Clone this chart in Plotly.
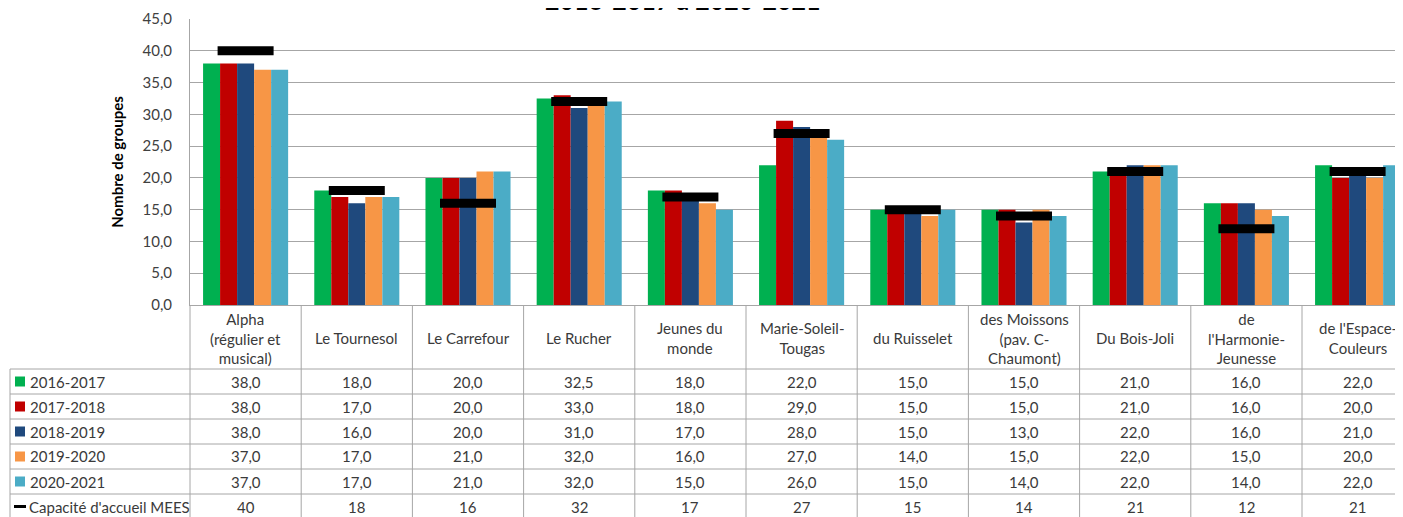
import plotly.graph_objects as go

categories = ["Alpha<br>(régulier et<br>musical)", "Le Tournesol", "Le Carrefour", "Le Rucher",
              "Jeunes du<br>monde", "Marie-Soleil-<br>Tougas", "du Ruisselet",
              "des Moissons<br>(pav. C-<br>Chaumont)", "Du Bois-Joli", "de<br>l'Harmonie-<br>Jeunesse",
              "de l'Espace-<br>Couleurs"]
series_names = ["2016-2017", "2017-2018", "2018-2019", "2019-2020", "2020-2021"]
s2016 = [38, 18, 20, 32.5, 18, 22, 15, 15, 21, 16, 22]
s2017 = [38, 17, 20, 33, 18, 29, 15, 15, 21, 16, 20]
s2018 = [38, 16, 20, 31, 17, 28, 15, 13, 22, 16, 21]
s2019 = [37, 17, 21, 32, 16, 27, 14, 15, 22, 15, 20]
s2020 = [37, 17, 21, 32, 15, 26, 15, 14, 22, 14, 22]
capacity_name = "Capacité d'accueil MEES"
capacity = [40, 18, 16, 32, 17, 27, 15, 14, 21, 12, 21]
colors = ["#00b050", "#c00000", "#1f497d", "#f79646", "#4bacc6"]
y_ticks = [0, 5, 10, 15, 20, 25, 30, 35, 40, 45]

W, H = 1403, 517
OFF = 8                      # page body margin
PL, PT, PBt = 190, 19, 305   # plot left / top / bottom in page pixels
ML, MT = PL - OFF, PT - OFF
MB = H - (PBt - OFF)
PW = W - ML                  # plot width in px
UNIT = 111.2                 # px per category
FONT = "Lato"
TXT = "#3a3a3a"
GRID = "#a6a6a6"

xs = list(range(len(categories)))
fig = go.Figure()
for name, vals, c in zip(series_names, [s2016, s2017, s2018, s2019, s2020], colors):
    fig.add_trace(go.Bar(x=xs, y=vals, name=name, marker=dict(color=c, line=dict(width=0)),
                         showlegend=False))
fig.add_trace(go.Scatter(x=xs, y=capacity, mode="markers", name=capacity_name, showlegend=False,
                         marker=dict(symbol="line-ew", size=40, color="black",
                                     line=dict(width=9, color="black"))))

def py(p):
    return (PBt - p) / (PBt - PT)

def px_(p):
    return (p - PL) / PW

ann = []
shapes = []
tf = dict(family=FONT, size=15, color=TXT)
# header row labels
for i, c in enumerate(categories):
    ann.append(dict(x=i, y=py(338), xref="x", yref="paper", text=c, showarrow=False,
                    xanchor="center", yanchor="middle", font=tf, align="center"))
row_tops = [369, 394, 419, 444, 469, 494]
row_h = 25
all_rows = [s2016, s2017, s2018, s2019, s2020]
for r, (name, vals) in enumerate(zip(series_names, all_rows)):
    yc = row_tops[r] + row_h / 2
    for i, v in enumerate(vals):
        ann.append(dict(x=i, y=py(yc), xref="x", yref="paper", text=f"{v:.1f}".replace(".", ","),
                        xanchor="center", yanchor="middle", showarrow=False, font=tf))
    ann.append(dict(x=px_(28), y=py(yc), xref="paper", yref="paper", text=name, xanchor="left",
                    yanchor="middle", showarrow=False, font=tf))
    shapes.append(dict(type="rect", xref="paper", yref="paper", x0=px_(15), x1=px_(25),
                       y0=py(yc - 5), y1=py(yc + 5), fillcolor=colors[r], line=dict(width=0)))
yc = row_tops[5] + row_h / 2
for i, v in enumerate(capacity):
    ann.append(dict(x=i, y=py(yc), xref="x", yref="paper", text=str(v), showarrow=False,
                    xanchor="center", yanchor="middle", font=tf))
ann.append(dict(x=px_(27), y=py(yc), xref="paper", yref="paper", text=capacity_name, xanchor="left",
                yanchor="middle", showarrow=False, font=tf))
shapes.append(dict(type="line", xref="paper", yref="paper", x0=px_(14), x1=px_(26),
                   y0=py(yc), y1=py(yc), line=dict(color="black", width=3)))
# horizontal table lines
for t in row_tops:
    shapes.append(dict(type="line", xref="paper", yref="paper", x0=px_(10), x1=1.0,
                       y0=py(t), y1=py(t), line=dict(color=GRID, width=1)))
# vertical lines
shapes.append(dict(type="line", xref="paper", yref="paper", x0=px_(10), x1=px_(10),
                   y0=py(369), y1=py(530), line=dict(color=GRID, width=1)))
shapes.append(dict(type="line", xref="paper", yref="paper", x0=0, x1=0,
                   y0=py(305), y1=py(530), line=dict(color=GRID, width=1)))
for i in range(len(categories)):
    shapes.append(dict(type="line", xref="x", yref="paper", x0=i + 0.5, x1=i + 0.5,
                       y0=py(305), y1=py(530), line=dict(color=GRID, width=1)))

# title (cut off at the top, as in the source image)
ann.append(dict(x=px_(683), y=1, xref="paper", yref="paper", xanchor="center", yanchor="bottom",
                yshift=2, text="<b>2016-2017 à 2020-2021</b>", showarrow=False,
                font=dict(family=FONT, size=25, color="black")))

fig.update_layout(
    width=W, height=H, barmode="group", bargap=0.235, bargroupgap=0,
    margin=dict(l=ML, r=0, t=MT, b=MB, pad=0, autoexpand=False),
    plot_bgcolor="white", paper_bgcolor="white", separators=", ",
    annotations=ann, shapes=shapes,
    xaxis=dict(range=[-0.5, -0.5 + PW / UNIT], showticklabels=False, showgrid=False,
               showline=True, linecolor=GRID, linewidth=1, zeroline=False, fixedrange=True,
               automargin=False),
    yaxis=dict(range=[0, 45], tickvals=y_ticks, tickformat=".1f", showgrid=True, gridcolor=GRID,
               gridwidth=1, showline=True, linecolor=GRID, linewidth=1, zeroline=False,
               automargin=False,
               tickfont=dict(family=FONT, size=15, color="#404040"), ticklabelstandoff=14,
               title=dict(text="<b>Nombre de groupes</b>", font=dict(family=FONT, size=15, color="black"),
                          standoff=15)),
    font=dict(family=FONT, color=TXT),
)
fig.write_html("out.html")
